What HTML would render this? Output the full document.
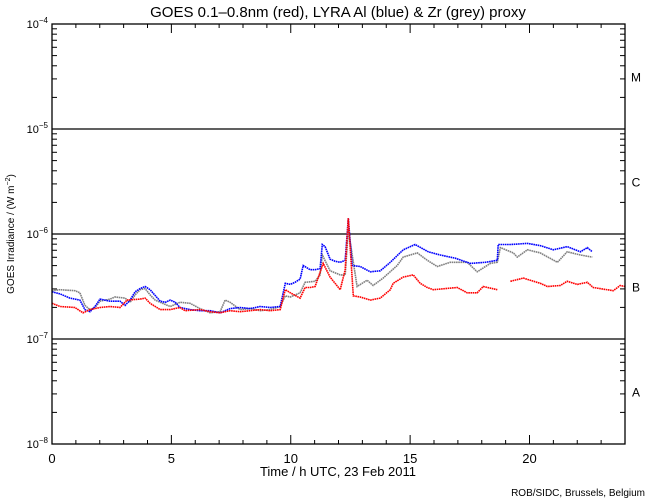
<!DOCTYPE html>
<html><head><meta charset="utf-8"><style>
html,body{margin:0;padding:0;background:#fff;}
svg{display:block;font-family:"Liberation Sans",sans-serif;}
</style></head><body>
<svg id="chart" width="650" height="500" viewBox="0 0 650 500" xmlns="http://www.w3.org/2000/svg">
<rect width="650" height="500" fill="#fff"/>
<text x="338" y="17" font-size="15" text-anchor="middle" fill="#000">GOES 0.1–0.8nm (red), LYRA Al (blue) &amp; Zr (grey) proxy</text>
<text transform="translate(14,234) rotate(-90)" font-size="10" text-anchor="middle" fill="#000">GOES Irradiance / (W m<tspan dy="-4" font-size="7">−2</tspan><tspan dy="4">)</tspan></text>
<text x="338" y="476" font-size="13" text-anchor="middle" fill="#000">Time / h UTC, 23 Feb 2011</text>
<text x="645" y="496" font-size="10" text-anchor="end" fill="#000">ROB/SIDC, Brussels, Belgium</text>
<g id="grid"></g><g id="series"></g><g id="axes"></g>
</svg>
<script>
const classLabels = ["M","C","B","A"];
const classLog = [-4.5,-5.5,-6.5,-7.5];
const yTickExp = [-4,-5,-6,-7,-8];
const xTickLabels = [0,5,10,15,20];

const redHours = [0,0.34,0.96,1.30,1.59,2.01,2.43,2.85,3.14,3.69,3.90,4.11,4.53,4.95,5.36,5.57,6.20,6.62,7.04,7.46,7.88,8.30,8.72,9.14,9.56,9.77,9.98,10.39,10.60,10.81,11.02,11.36,11.65,12.07,12.28,12.41,12.62,12.91,13.33,13.75,14.17,14.29,14.71,15.13,15.42,15.72,15.97,16.97,17.39,17.81,18.06,18.65,null,19.20,19.74,20.45,20.75,21.29,21.58,22.00,22.42,22.67,23.51,23.80,24.0];
const redLog = [-6.66,-6.69,-6.70,-6.75,-6.72,-6.70,-6.69,-6.70,-6.63,-6.62,-6.61,-6.66,-6.72,-6.72,-6.70,-6.73,-6.72,-6.74,-6.75,-6.73,-6.74,-6.73,-6.72,-6.73,-6.72,-6.53,-6.56,-6.61,-6.51,-6.51,-6.50,-6.28,-6.41,-6.53,-6.34,-5.85,-6.59,-6.60,-6.63,-6.61,-6.53,-6.47,-6.41,-6.39,-6.47,-6.51,-6.53,-6.51,-6.56,-6.56,-6.50,-6.53,null,-6.45,-6.42,-6.47,-6.50,-6.49,-6.45,-6.48,-6.46,-6.51,-6.54,-6.49,-6.50];

const blueHours = [0,0.34,0.75,1.17,1.38,1.59,1.80,2.01,2.43,2.85,3.06,3.27,3.48,3.69,3.90,4.11,4.53,4.74,4.95,5.16,5.36,5.78,6.20,6.62,7.04,7.46,7.88,8.30,8.72,9.14,9.56,9.77,9.98,10.18,10.39,10.52,10.81,11.02,11.23,11.32,11.44,11.65,11.86,12.07,12.28,12.41,12.57,12.91,13.33,13.75,14.17,14.71,15.21,15.76,16.26,16.89,17.52,18.15,18.65,18.69,19.20,19.91,20.45,21.00,21.58,22.13,22.42,22.63];
const blueLog = [-6.55,-6.57,-6.61,-6.63,-6.72,-6.74,-6.69,-6.62,-6.64,-6.64,-6.68,-6.63,-6.55,-6.52,-6.50,-6.53,-6.64,-6.65,-6.63,-6.65,-6.70,-6.72,-6.73,-6.73,-6.75,-6.71,-6.70,-6.71,-6.69,-6.70,-6.69,-6.47,-6.48,-6.46,-6.43,-6.30,-6.34,-6.34,-6.33,-6.10,-6.12,-6.24,-6.26,-6.27,-6.25,-5.85,-6.30,-6.31,-6.36,-6.35,-6.27,-6.15,-6.10,-6.17,-6.20,-6.23,-6.28,-6.27,-6.25,-6.10,-6.10,-6.09,-6.11,-6.15,-6.12,-6.17,-6.13,-6.17];

const greyHours = [0,0.34,0.96,1.17,1.38,1.59,1.80,2.01,2.43,2.64,3.06,3.27,3.48,3.69,3.90,4.11,4.32,4.53,4.95,5.36,5.78,6.20,6.62,7.04,7.25,7.46,7.88,8.30,8.72,9.14,9.56,9.77,9.98,10.39,10.60,11.02,11.23,11.32,11.65,12.07,12.28,12.41,12.78,13.20,13.45,13.87,14.46,14.71,15.30,15.72,16.14,16.68,17.39,17.81,18.36,18.65,18.78,19.32,19.49,19.91,20.45,21.17,21.58,22.13,22.63];
const greyLog = [-6.54,-6.53,-6.54,-6.56,-6.68,-6.72,-6.70,-6.64,-6.62,-6.60,-6.61,-6.65,-6.58,-6.53,-6.52,-6.58,-6.63,-6.65,-6.69,-6.65,-6.66,-6.71,-6.75,-6.74,-6.63,-6.65,-6.72,-6.71,-6.73,-6.72,-6.69,-6.59,-6.60,-6.56,-6.46,-6.45,-6.39,-6.20,-6.35,-6.39,-6.39,-5.96,-6.50,-6.44,-6.49,-6.42,-6.30,-6.22,-6.18,-6.25,-6.31,-6.27,-6.27,-6.36,-6.28,-6.27,-6.13,-6.18,-6.22,-6.15,-6.18,-6.27,-6.17,-6.20,-6.22];

const X0=52, X1=625, Y0=24, Y1=444;
const xs = h => X0 + h/24*(X1-X0);
const ys = l => Y0 + (-4 - l)/4*(Y1-Y0);
const NS="http://www.w3.org/2000/svg";
function mk(tag, attrs, parent){const e=document.createElementNS(NS,tag);for(const k in attrs)e.setAttribute(k,attrs[k]);parent.appendChild(e);return e;}
const grid=document.getElementById('grid'), ser=document.getElementById('series'), axes=document.getElementById('axes');

// decade lines
[-5,-6,-7].forEach(ex=>{
  const l=mk('line',{x1:X0,x2:X1,y1:ys(ex),y2:ys(ex),stroke:'#000','stroke-width':1.3},grid);
  
  
});

function drawSeries(hours, logs, color, name){
  let d='', pen=false;
  for(let i=0;i<hours.length;i++){
    if(hours[i]===null||logs[i]===null){pen=false;continue;}
    d+=(pen?'L':'M')+xs(hours[i]).toFixed(1)+' '+ys(logs[i]).toFixed(1)+' ';
    pen=true;
  }
  const p=mk('path',{d:d,fill:'none',stroke:color,'stroke-width':1.6,'stroke-dasharray':'1.6 0.6'},ser);
  
  
}
drawSeries(greyHours, greyLog, '#808080', 'zr-grey-series');
drawSeries(blueHours, blueLog, '#0000ff', 'al-blue-series');
drawSeries(redHours, redLog, '#ff0000', 'goes-red-series');

// frame
const fr=mk('rect',{x:X0,y:Y0,width:X1-X0,height:Y1-Y0,fill:'none',stroke:'#000','stroke-width':1.3},axes);



// y ticks
for(let ex=-8;ex<-4;ex++){
  for(let m=2;m<=9;m++){
    const y=ys(ex+Math.log10(m));
    mk('line',{x1:X0,x2:X0+5,y1:y,y2:y,stroke:'#000'},axes);
    mk('line',{x1:X1,x2:X1-5,y1:y,y2:y,stroke:'#000'},axes);
  }
}
yTickExp.forEach(ex=>{
  const y=ys(ex);
  mk('line',{x1:X0,x2:X0+10,y1:y,y2:y,stroke:'#000'},axes);
  mk('line',{x1:X1,x2:X1-10,y1:y,y2:y,stroke:'#000'},axes);
  const t=mk('text',{x:X0-4,y:y+4,'font-size':11,'text-anchor':'end',fill:'#000'},axes);
  
  
  t.innerHTML='10<tspan dy="-5" font-size="8">−'+(-ex)+'</tspan>';
});
// x ticks
for(let h=0;h<=24;h++){
  const x=xs(h), len=(h%5===0)?9:4;
  mk('line',{x1:x,x2:x,y1:Y1,y2:Y1-len,stroke:'#000'},axes);
  mk('line',{x1:x,x2:x,y1:Y0,y2:Y0+len,stroke:'#000'},axes);
}
xTickLabels.forEach(h=>{
  const t=mk('text',{x:xs(h),y:Y1+19,'font-size':13,'text-anchor':'middle',fill:'#000'},axes);
  
  
  t.textContent=h;
});
classLabels.forEach((c,i)=>{
  const t=mk('text',{x:636,y:ys(classLog[i])+5,'font-size':12,'text-anchor':'middle',fill:'#000'},axes);
  
  
  t.textContent=c;
});
</script>
</body></html>
